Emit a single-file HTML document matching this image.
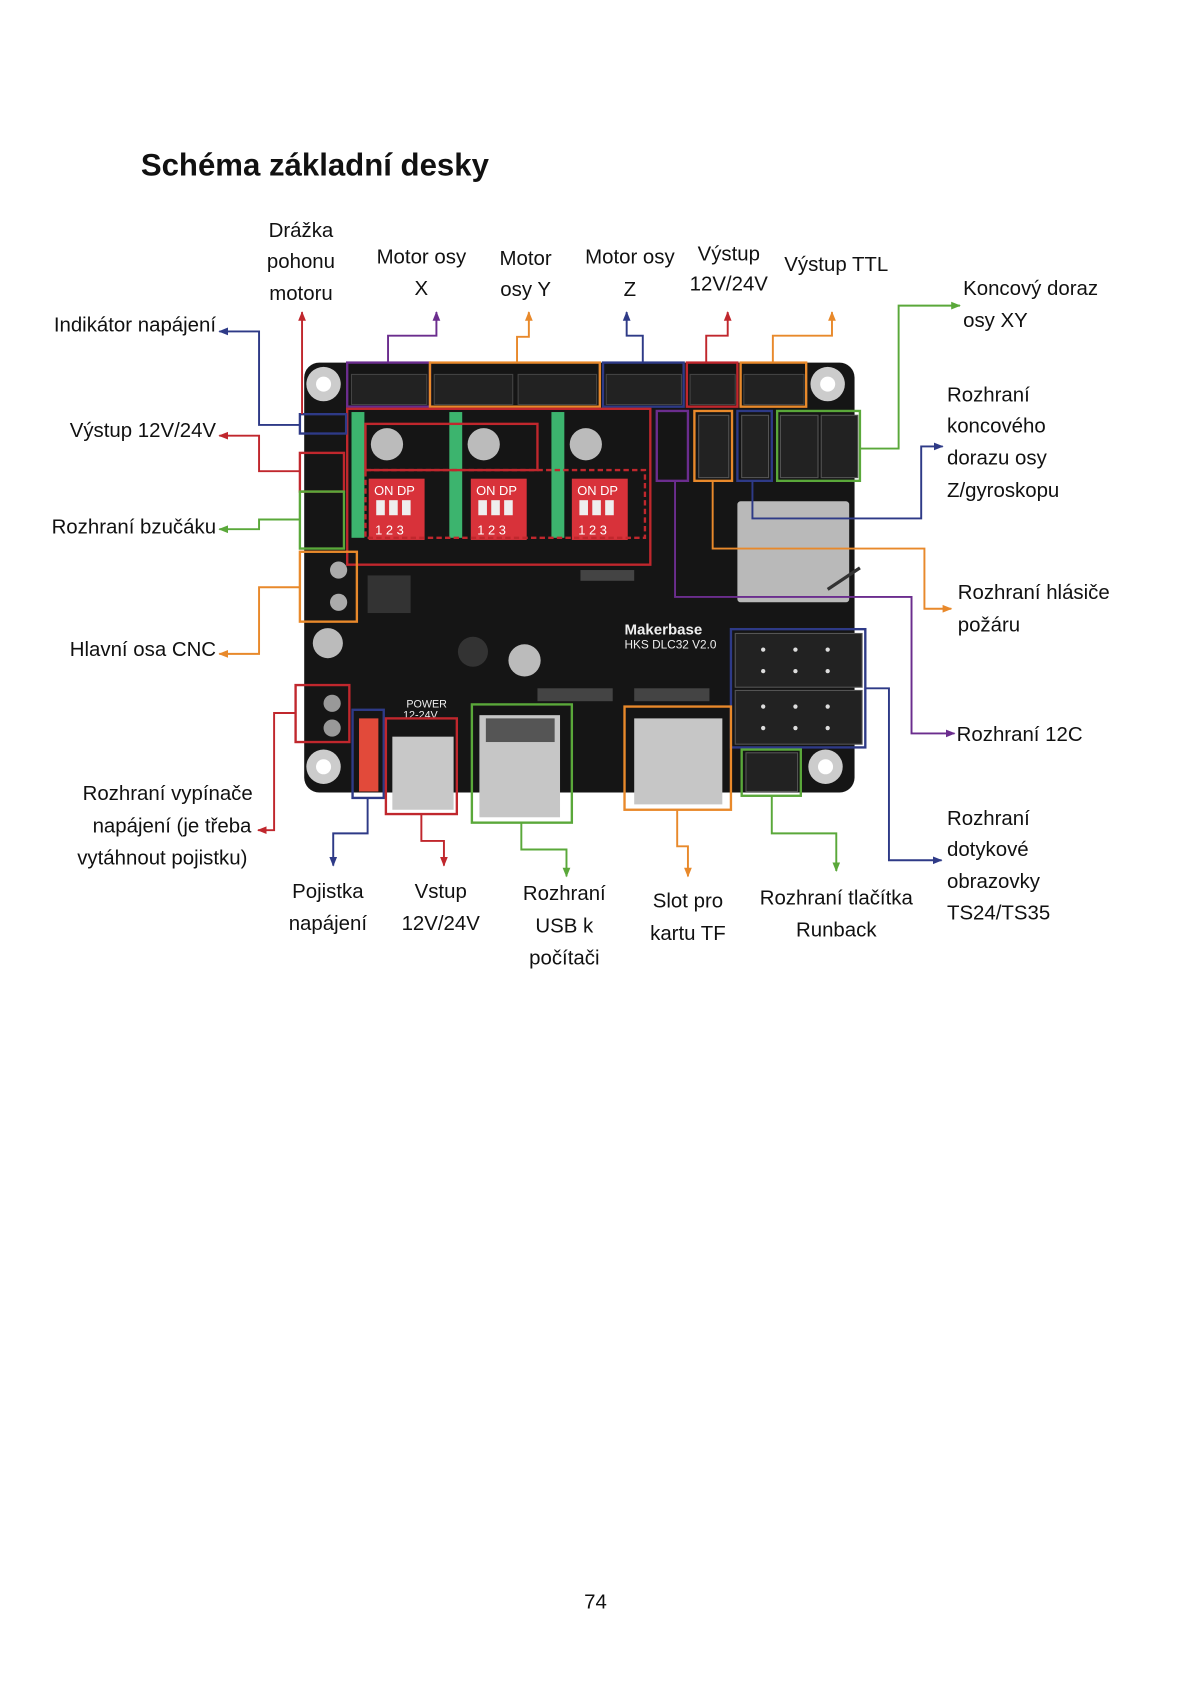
<!DOCTYPE html>
<html><head><meta charset="utf-8"><style>
html,body{margin:0;padding:0;background:#fff;}
svg{display:block}
text{font-family:"Liberation Sans",sans-serif;fill:#111;}
</style></head><body>
<svg width="1191" height="1684" viewBox="0 0 1108 1566" xmlns="http://www.w3.org/2000/svg">
<defs>
<marker id="r" viewBox="0 0 10 10" refX="9" refY="5" markerWidth="5" markerHeight="5" orient="auto"><path d="M0,1 L10,5 L0,9 z" fill="#c0272d"/></marker>
<marker id="b" viewBox="0 0 10 10" refX="9" refY="5" markerWidth="5" markerHeight="5" orient="auto"><path d="M0,1 L10,5 L0,9 z" fill="#2e3a87"/></marker>
<marker id="o" viewBox="0 0 10 10" refX="9" refY="5" markerWidth="5" markerHeight="5" orient="auto"><path d="M0,1 L10,5 L0,9 z" fill="#e8892b"/></marker>
<marker id="g" viewBox="0 0 10 10" refX="9" refY="5" markerWidth="5" markerHeight="5" orient="auto"><path d="M0,1 L10,5 L0,9 z" fill="#5aa83a"/></marker>
<marker id="p" viewBox="0 0 10 10" refX="9" refY="5" markerWidth="5" markerHeight="5" orient="auto"><path d="M0,1 L10,5 L0,9 z" fill="#6b2d8e"/></marker>
</defs>
<text x="131" y="163" font-size="29" font-weight="bold">Schéma základní desky</text>

<!-- board -->
<rect x="283" y="337" width="512" height="400" rx="14" fill="#151515"/>
<circle cx="301" cy="357" r="16" fill="#ccc"/><circle cx="301" cy="357" r="7" fill="#fff"/>
<circle cx="770" cy="357" r="16" fill="#ccc"/><circle cx="770" cy="357" r="7" fill="#fff"/>
<circle cx="301" cy="713" r="16" fill="#ccc"/><circle cx="301" cy="713" r="7" fill="#fff"/>
<circle cx="768" cy="713" r="16" fill="#ccc"/><circle cx="768" cy="713" r="7" fill="#fff"/>
<g fill="#222" stroke="#444"><rect x="327" y="348" width="70" height="28"/><rect x="404" y="348" width="73" height="28"/><rect x="482" y="348" width="73" height="28"/><rect x="564" y="348" width="70" height="28"/><rect x="642" y="348" width="42" height="28"/><rect x="692" y="348" width="56" height="28"/></g>
<g fill="#3cb46e"><rect x="327" y="383" width="12" height="117"/><rect x="418" y="383" width="12" height="117"/><rect x="513" y="383" width="12" height="117"/></g>
<g fill="#bbb"><circle cx="360" cy="413" r="15"/><circle cx="450" cy="413" r="15"/><circle cx="545" cy="413" r="15"/><circle cx="305" cy="598" r="14"/><circle cx="440" cy="606" r="14" fill="#333"/><circle cx="488" cy="614" r="15"/></g>
<g fill="#d8323a"><rect x="343" y="445" width="52" height="57"/><rect x="438" y="445" width="52" height="57"/><rect x="532" y="445" width="52" height="57"/></g>
<g font-size="12"><text x="348" y="460" style="fill:#fff">ON DP</text><text x="443" y="460" style="fill:#fff">ON DP</text><text x="537" y="460" style="fill:#fff">ON DP</text>
<text x="349" y="497" style="fill:#fff">1 2 3</text><text x="444" y="497" style="fill:#fff">1 2 3</text><text x="538" y="497" style="fill:#fff">1 2 3</text></g>
<g fill="#eee"><rect x="350" y="465" width="8" height="14"/><rect x="362" y="465" width="8" height="14"/><rect x="374" y="465" width="8" height="14"/><rect x="445" y="465" width="8" height="14"/><rect x="457" y="465" width="8" height="14"/><rect x="469" y="465" width="8" height="14"/><rect x="539" y="465" width="8" height="14"/><rect x="551" y="465" width="8" height="14"/><rect x="563" y="465" width="8" height="14"/></g>
<g fill="#222" stroke="#555"><rect x="650" y="386" width="28" height="58"/><rect x="690" y="386" width="25" height="58"/><rect x="726" y="386" width="35" height="58"/><rect x="764" y="386" width="34" height="58"/><rect x="684" y="589" width="118" height="50"/><rect x="684" y="642" width="118" height="50"/><rect x="694" y="700" width="48" height="36"/></g>
<g fill="#ddd"><circle cx="710" cy="604" r="2"/><circle cx="740" cy="604" r="2"/><circle cx="770" cy="604" r="2"/><circle cx="710" cy="624" r="2"/><circle cx="740" cy="624" r="2"/><circle cx="770" cy="624" r="2"/><circle cx="710" cy="657" r="2"/><circle cx="740" cy="657" r="2"/><circle cx="770" cy="657" r="2"/><circle cx="710" cy="677" r="2"/><circle cx="740" cy="677" r="2"/><circle cx="770" cy="677" r="2"/></g>
<rect x="686" y="466" width="104" height="94" rx="3" fill="#b9b9b9"/>
<path d="M770,548 L800,528" stroke="#333" stroke-width="3"/>
<text x="581" y="590" font-size="14" font-weight="bold" style="fill:#eee">Makerbase</text>
<text x="581" y="603" font-size="11" style="fill:#eee">HKS DLC32 V2.0</text>
<text x="378" y="658" font-size="10" style="fill:#eee">POWER</text>
<text x="375" y="668" font-size="10" style="fill:#eee">12-24V</text>
<circle cx="315" cy="530" r="8" fill="#aaa"/><circle cx="315" cy="560" r="8" fill="#aaa"/>
<circle cx="309" cy="654" r="8" fill="#999"/><circle cx="309" cy="677" r="8" fill="#999"/>
<rect x="334" y="668" width="18" height="68" fill="#e24a3a"/>
<rect x="365" y="685" width="57" height="68" fill="#c8c8c8"/>
<rect x="446" y="665" width="75" height="95" fill="#c6c6c6"/><rect x="452" y="668" width="64" height="22" fill="#555"/>
<rect x="590" y="668" width="82" height="80" fill="#c6c6c6"/>
<rect x="342" y="535" width="40" height="35" fill="#333"/>
<g fill="#444"><rect x="540" y="530" width="50" height="10"/><rect x="500" y="640" width="70" height="12"/><rect x="590" y="640" width="70" height="12"/></g>

<g fill="none" stroke-width="2.2">
<rect x="323" y="337" width="77" height="41" stroke="#6b2d8e"/>
<rect x="400" y="337" width="158" height="41" stroke="#e8892b"/>
<rect x="561" y="337" width="75" height="41" stroke="#2e3a87"/>
<rect x="639" y="337" width="47" height="41" stroke="#c0272d"/>
<rect x="689" y="337" width="61" height="41" stroke="#e8892b"/>
<rect x="323" y="380" width="282" height="145" stroke="#c0272d"/>
<rect x="340" y="437" width="260" height="63" stroke="#c0272d" stroke-dasharray="5,3"/>
<rect x="340" y="394" width="160" height="43" stroke="#c0272d"/>
<rect x="279" y="385" width="43" height="18" stroke="#2e3a87"/>
<rect x="279" y="421" width="41" height="36" stroke="#c0272d"/>
<rect x="279" y="457" width="41" height="53" stroke="#5aa83a"/>
<rect x="279" y="513" width="53" height="65" stroke="#e8892b"/>
<rect x="611" y="382" width="29" height="65" stroke="#6b2d8e"/>
<rect x="646" y="382" width="35" height="65" stroke="#e8892b"/>
<rect x="686" y="382" width="32" height="65" stroke="#2e3a87"/>
<rect x="723" y="382" width="77" height="65" stroke="#5aa83a"/>
<rect x="680" y="585" width="125" height="110" stroke="#2e3a87"/>
<rect x="275" y="637" width="50" height="53" stroke="#c0272d"/>
<rect x="328" y="660" width="29" height="82" stroke="#2e3a87"/>
<rect x="359" y="668" width="66" height="89" stroke="#c0272d"/>
<rect x="439" y="655" width="93" height="110" stroke="#5aa83a"/>
<rect x="581" y="657" width="99" height="96" stroke="#e8892b"/>
<rect x="690" y="697" width="55" height="43" stroke="#5aa83a"/>
</g>

<g fill="none" stroke-width="1.8">
<polyline points="281,385 281,290" stroke="#c0272d" marker-end="url(#r)"/>
<polyline points="361,337 361,312 406,312 406,290" stroke="#6b2d8e" marker-end="url(#p)"/>
<polyline points="481,337 481,313 492,313 492,290" stroke="#e8892b" marker-end="url(#o)"/>
<polyline points="598,337 598,312 583,312 583,290" stroke="#2e3a87" marker-end="url(#b)"/>
<polyline points="657,337 657,312 677,312 677,290" stroke="#c0272d" marker-end="url(#r)"/>
<polyline points="719,337 719,312 774,312 774,290" stroke="#e8892b" marker-end="url(#o)"/>
<polyline points="800,417 836,417 836,284 893,284" stroke="#5aa83a" marker-end="url(#g)"/>
<polyline points="700,447 700,482 857,482 857,415 877,415" stroke="#2e3a87" marker-end="url(#b)"/>
<polyline points="663,447 663,510 860,510 860,566 885,566" stroke="#e8892b" marker-end="url(#o)"/>
<polyline points="628,447 628,555 848,555 848,682 888,682" stroke="#6b2d8e" marker-end="url(#p)"/>
<polyline points="805,640 827,640 827,800 876,800" stroke="#2e3a87" marker-end="url(#b)"/>
<polyline points="718,740 718,775 778,775 778,810" stroke="#5aa83a" marker-end="url(#g)"/>
<polyline points="630,753 630,787 640,787 640,815" stroke="#e8892b" marker-end="url(#o)"/>
<polyline points="485,765 485,790 527,790 527,815" stroke="#5aa83a" marker-end="url(#g)"/>
<polyline points="392,757 392,782 413,782 413,805" stroke="#c0272d" marker-end="url(#r)"/>
<polyline points="342,742 342,775 310,775 310,805" stroke="#2e3a87" marker-end="url(#b)"/>
<polyline points="275,663 255,663 255,772 240,772" stroke="#c0272d" marker-end="url(#r)"/>
<polyline points="279,546 241,546 241,608 204,608" stroke="#e8892b" marker-end="url(#o)"/>
<polyline points="279,483 241,483 241,492 204,492" stroke="#5aa83a" marker-end="url(#g)"/>
<polyline points="279,438 241,438 241,405 204,405" stroke="#c0272d" marker-end="url(#r)"/>
<polyline points="279,395 241,395 241,308 204,308" stroke="#2e3a87" marker-end="url(#b)"/>
</g>

<g font-size="19">
<g text-anchor="middle">
<text x="280" y="220">Drážka</text><text x="280" y="249">pohonu</text><text x="280" y="279">motoru</text>
<text x="392" y="245">Motor osy</text><text x="392" y="274">X</text>
<text x="489" y="246">Motor</text><text x="489" y="275">osy Y</text>
<text x="586" y="245">Motor osy</text><text x="586" y="275">Z</text>
<text x="678" y="242">Výstup</text><text x="678" y="270">12V/24V</text>
<text x="778" y="252">Výstup TTL</text>
<text x="156" y="744">Rozhraní vypínače</text><text x="160" y="774">napájení (je třeba</text><text x="151" y="804">vytáhnout pojistku)</text>
<text x="305" y="835">Pojistka</text><text x="305" y="865">napájení</text>
<text x="410" y="835">Vstup</text><text x="410" y="865">12V/24V</text>
<text x="525" y="837">Rozhraní</text><text x="525" y="867">USB k</text><text x="525" y="897">počítači</text>
<text x="640" y="844">Slot pro</text><text x="640" y="874">kartu TF</text>
<text x="778" y="841">Rozhraní tlačítka</text><text x="778" y="871">Runback</text>
</g>
<g text-anchor="end">
<text x="201" y="308">Indikátor napájení</text>
<text x="201" y="406">Výstup 12V/24V</text>
<text x="201" y="496">Rozhraní bzučáku</text>
<text x="201" y="610">Hlavní osa CNC</text>
</g>
<text x="896" y="274">Koncový doraz</text><text x="896" y="304">osy XY</text>
<text x="881" y="373">Rozhraní</text><text x="881" y="402">koncového</text><text x="881" y="432">dorazu osy</text><text x="881" y="462">Z/gyroskopu</text>
<text x="891" y="557">Rozhraní hlásiče</text><text x="891" y="587">požáru</text>
<text x="890" y="689">Rozhraní 12C</text>
<text x="881" y="767">Rozhraní</text><text x="881" y="796">dotykové</text><text x="881" y="826">obrazovky</text><text x="881" y="855">TS24/TS35</text>
<text x="554" y="1496" text-anchor="middle">74</text>
</g>
</svg>
</body></html>
